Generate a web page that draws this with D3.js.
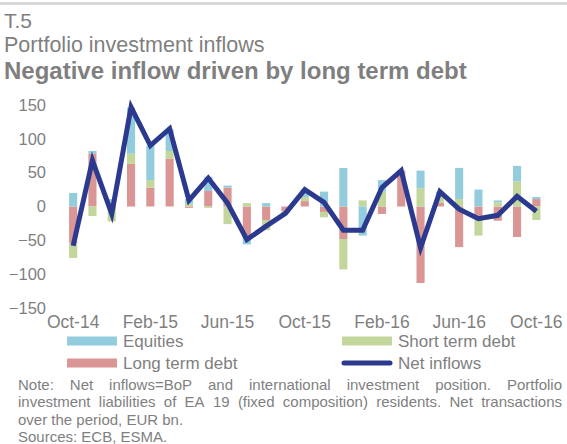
<!DOCTYPE html>
<html>
<head>
<meta charset="utf-8">
<script src="https://cdn.jsdelivr.net/npm/d3@7"></script>
<style>
  body { margin: 0; background: #fff; }
  text { font-family: "Liberation Sans", Arial, sans-serif; fill: #7f7f7f; }
</style>
</head>
<body>
<div id="chart"></div>
<script>
const months = ['Oct-14','Nov-14','Dec-14','Jan-15','Feb-15','Mar-15','Apr-15','May-15','Jun-15','Jul-15','Aug-15','Sep-15',
                'Oct-15','Nov-15','Dec-15','Jan-16','Feb-16','Mar-16','Apr-16','May-16','Jun-16','Jul-16','Aug-16','Sep-16','Oct-16']
const tickLabels = ['Oct-14','Feb-15','Jun-15','Oct-15','Feb-16','Jun-16','Oct-16']
const yTicks = [-150, -100, -50, 0, 50, 100, 150]

const equities  = [20, 4, 5, 68, 51, 32, 7, 21, 3, -8, 5, 0, 11, 22, 57, -43, 17, 0, 26, 5, 46, 25, 3, 23, 3]
const shortTerm = [-21, -14, -22, 15, 11, 11, 4, -2, -26, 5, -15, -3, 6, -8, -45, 9, 22, 0, 27, 11, 11, -25, 6, 37, -20]
const longTerm  = [-55, 78, 6, 63, 28, 71, -2, 23, 28, -48, -20, -7, 8, -8, -48, 0, -11, 53, -113, 6, -60, -18, -21, -45, 11]
const netInflows = [-58, 68, -11, 147, 90, 115, 9, 42, 5, -49, -29, -10, 25, 6, -35, -35, 28, 53, -61, 22, -4, -18, -13, 15, -7]

const w = 567, h = 444

const colors = { longTerm: '#d99694', shortTerm: '#c3d69b', equities: '#93cddd' }

const table = months.map((m, i) => ({
  month: m, longTerm: longTerm[i], shortTerm: shortTerm[i], equities: equities[i]
}))

const svg = d3.select('#chart').append('svg')
              .attr('width', w)
              .attr('height', h)

// top rule
svg.append('rect').attr('x', 0).attr('y', 2).attr('width', w).attr('height', 3).attr('fill', '#d9d9d9')

svg.append('text').attr('x', 4).attr('y', 28).style('font-size', '21px').text('T.5')
svg.append('text').attr('x', 4).attr('y', 52).style('font-size', '21.5px').text('Portfolio investment inflows')
svg.append('text').attr('x', 4).attr('y', 79).style('font-size', '24px').style('font-weight', 'bold')
   .text('Negative inflow driven by long term debt')

const xScale = d3.scaleBand()
                 .domain(months)
                 .range([63.5, 546])
                 .paddingInner(0.58)
                 .paddingOuter(0.29)

const yScale = d3.scaleLinear()
                 .domain([-150, 150])
                 .range([308, 105])

const yAxis = svg.append('g')
                 .attr('transform', 'translate(46, 0)')
                 .call(d3.axisLeft(yScale).tickValues(yTicks).tickSize(0).tickPadding(0))
yAxis.select('.domain').remove()
yAxis.selectAll('text').style('font-size', '16.5px').attr('fill', '#7f7f7f').attr('font-family', null)

const xAxis = svg.append('g')
                 .attr('transform', 'translate(0, 316)')
                 .call(d3.axisBottom(xScale).tickValues(tickLabels).tickSize(0).tickPadding(0))
xAxis.select('.domain').remove()
xAxis.selectAll('text').style('font-size', '17.5px').attr('fill', '#7f7f7f').attr('font-family', null)

const stack = d3.stack()
                .keys(['longTerm', 'shortTerm', 'equities'])
                .offset(d3.stackOffsetDiverging)

svg.append('g').selectAll('g')
   .data(stack(table))
   .enter()
   .append('g')
   .attr('fill', (s) => colors[s.key])
   .selectAll('rect')
   .data((s) => s)
   .enter()
   .append('rect')
   .attr('x', (d) => xScale(d.data.month))
   .attr('y', (d) => yScale(Math.max(d[0], d[1])))
   .attr('width', xScale.bandwidth())
   .attr('height', (d) => Math.abs(yScale(d[0]) - yScale(d[1])))

const line = d3.line()
               .x((d, i) => xScale(months[i]) + xScale.bandwidth() / 2)
               .y((d) => yScale(d))

svg.append('path')
   .datum(netInflows)
   .attr('d', line)
   .attr('fill', 'none')
   .attr('stroke', '#2b3a8e')
   .attr('stroke-width', 5)
   .attr('stroke-linejoin', 'miter')

// legend
const legend = [
  { name: 'Equities', type: 'rect', color: colors.equities, x: 67, y: 341 },
  { name: 'Short term debt', type: 'rect', color: colors.shortTerm, x: 342, y: 341 },
  { name: 'Long term debt', type: 'rect', color: colors.longTerm, x: 67, y: 363 },
  { name: 'Net inflows', type: 'line', color: '#2b3a8e', x: 342, y: 363 }
]
legend.forEach((l) => {
  if (l.type === 'rect') {
    svg.append('rect').attr('x', l.x).attr('y', l.y - 4.5).attr('width', 50).attr('height', 9).attr('fill', l.color)
  } else {
    svg.append('line').attr('x1', l.x + 2).attr('x2', l.x + 48).attr('y1', l.y).attr('y2', l.y)
       .attr('stroke', l.color).attr('stroke-width', 5).attr('stroke-linecap', 'round')
  }
  svg.append('text').attr('x', l.x + 56).attr('y', l.y + 6).style('font-size', '17px').text(l.name)
})

// note, first two lines justified
const noteLines = [
  { t: 'Note: Net inflows=BoP and international investment position. Portfolio', justify: true },
  { t: 'investment liabilities of EA 19 (fixed composition) residents. Net transactions', justify: true },
  { t: 'over the period, EUR bn.', justify: false },
  { t: 'Sources: ECB, ESMA.', justify: false }
]
const noteLeft = 18, noteRight = 562
noteLines.forEach((nl, i) => {
  const y = 389.5 + i * 17.5
  if (!nl.justify) {
    svg.append('text').attr('x', noteLeft).attr('y', y).style('font-size', '15px').text(nl.t)
    return
  }
  const words = nl.t.split(' ')
  const nodes = words.map((wd) => svg.append('text').attr('y', y).style('font-size', '15px').text(wd))
  const widths = nodes.map((n) => n.node().getComputedTextLength())
  const gap = (noteRight - noteLeft - d3.sum(widths)) / (words.length - 1)
  let x = noteLeft
  nodes.forEach((n, j) => {
    n.attr('x', x)
    x += widths[j] + gap
  })
})
</script>
</body>
</html>
